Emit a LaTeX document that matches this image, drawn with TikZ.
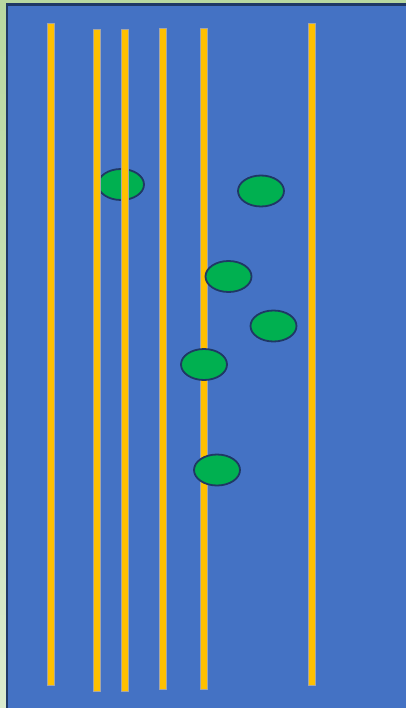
\documentclass[tikz,border=0pt]{standalone}
\usepackage{tikz}
\usetikzlibrary{shapes.geometric}
\usepackage{xcolor}
\definecolor{bgtop}{RGB}{184,216,160}
\definecolor{bgbottom}{RGB}{218,235,206}
\definecolor{panelblue}{RGB}{68,114,196}
\definecolor{paneledge}{RGB}{31,56,100}
\definecolor{rodyellow}{RGB}{255,192,0}
\definecolor{blobgreen}{RGB}{0,176,80}

\begin{document}
\begin{tikzpicture}[
    x=1pt, y=-1pt,
    rod/.style={fill=rodyellow, draw=gray!70, line width=0.6pt},
    blob/.style={ellipse, draw=paneledge, fill=blobgreen, line width=1.8pt, minimum width=46pt, minimum height=31pt, inner sep=0pt}
]

% Background and panel
\useasboundingbox (0,0) rectangle (406,708);
\shade[top color=bgtop, bottom color=bgbottom] (0,0) rectangle (406,708);
\draw[fill=panelblue, draw=paneledge, line width=2.4pt] (7,4.5) rectangle (412,714);

% Rods behind the blobs
\draw[rod] (47,23) rectangle (54,685);
\draw[rod] (200.5,28) rectangle (207.5,689);
\draw[rod] (308.5,23) rectangle (315.5,685);

% Blobs
\node[blob] (b1) at (121,184.5) {};
\node[blob] (b2) at (261,191) {};
\node[blob] (b3) at (228.5,276.5) {};
\node[blob] (b4) at (273.5,326) {};
\node[blob] (b5) at (204,364.5) {};
\node[blob] (b6) at (217,470) {};

% Rods in front
\draw[rod] (93,29) rectangle (100,691);
\draw[rod] (121,29) rectangle (128,691);
\draw[rod] (159.5,28) rectangle (166.5,689);

\end{tikzpicture}
\end{document}
